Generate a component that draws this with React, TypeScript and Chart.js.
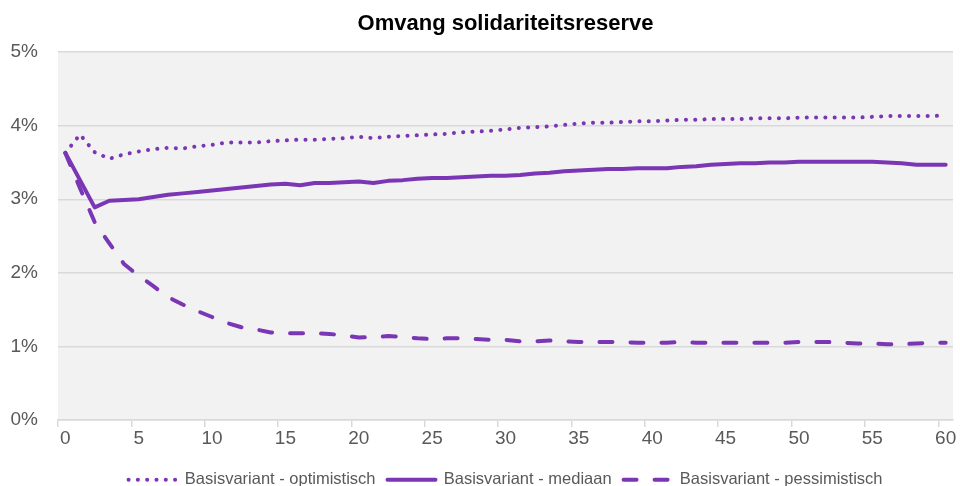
import React, { useEffect, useRef } from 'react';
import { Chart, registerables } from 'chart.js';

Chart.register(...registerables);

const years = [
  0, 1, 2, 3, 4, 5, 6, 7, 8, 9, 10, 11, 12, 13, 14, 15, 16, 17, 18, 19, 20,
  21, 22, 23, 24, 25, 26, 27, 28, 29, 30, 31, 32, 33, 34, 35, 36, 37, 38, 39, 40,
  41, 42, 43, 44, 45, 46, 47, 48, 49, 50, 51, 52, 53, 54, 55, 56, 57, 58, 59, 60,
];

const optimistisch = [
  3.63, 3.88, 3.64, 3.55, 3.61, 3.65, 3.68, 3.70, 3.69, 3.72, 3.74,
  3.77, 3.77, 3.77, 3.79, 3.80, 3.81, 3.81, 3.82, 3.83, 3.85,
  3.83, 3.85, 3.86, 3.87, 3.88, 3.89, 3.91, 3.92, 3.93, 3.95,
  3.97, 3.98, 3.99, 4.01, 4.03, 4.04, 4.04, 4.05, 4.06, 4.06,
  4.07, 4.08, 4.08, 4.09, 4.09, 4.09, 4.10, 4.10, 4.10, 4.11,
  4.11, 4.11, 4.11, 4.11, 4.12, 4.13, 4.13, 4.13, 4.13, 4.14,
];

const mediaan = [
  3.63, 3.26, 2.89, 2.98, 2.99, 3.00, 3.03, 3.06, 3.08, 3.10, 3.12,
  3.14, 3.16, 3.18, 3.20, 3.21, 3.19, 3.22, 3.22, 3.23, 3.24,
  3.22, 3.25, 3.26, 3.28, 3.29, 3.29, 3.30, 3.31, 3.32, 3.32,
  3.33, 3.35, 3.36, 3.38, 3.39, 3.40, 3.41, 3.41, 3.42, 3.42,
  3.42, 3.44, 3.45, 3.47, 3.48, 3.49, 3.49, 3.50, 3.50, 3.51,
  3.51, 3.51, 3.51, 3.51, 3.51, 3.50, 3.49, 3.47, 3.47, 3.47,
];

const pessimistisch = [
  3.63, 3.15, 2.69, 2.40, 2.12, 1.96, 1.82, 1.67, 1.57, 1.48, 1.40,
  1.32, 1.26, 1.23, 1.19, 1.18, 1.18, 1.18, 1.17, 1.15, 1.12,
  1.13, 1.14, 1.13, 1.11, 1.10, 1.11, 1.11, 1.10, 1.09, 1.09,
  1.07, 1.07, 1.08, 1.07, 1.06, 1.06, 1.06, 1.06, 1.05, 1.05,
  1.05, 1.06, 1.05, 1.05, 1.05, 1.05, 1.05, 1.05, 1.05, 1.06,
  1.06, 1.06, 1.05, 1.04, 1.04, 1.03, 1.03, 1.04, 1.05, 1.05,
];

const seriesNames = [
  'Basisvariant - optimistisch',
  'Basisvariant - mediaan',
  'Basisvariant - pessimistisch',
];

const titleText = 'Omvang solidariteitsreserve';

const PURPLE = '#7B36B5';
const FONT = "'Liberation Sans', Arial, sans-serif";
const CANVAS_H = 498;

export default function App() {
  const ref = useRef<HTMLCanvasElement | null>(null);

  useEffect(() => {
    if (!ref.current) return;
    const plotBg = {
      id: 'plotBg',
      beforeDraw(chart: any) {
        const { ctx, chartArea: a } = chart;
        ctx.save();
        ctx.fillStyle = '#f2f2f2';
        ctx.fillRect(a.left, a.top, a.right - a.left, a.bottom - a.top);
        ctx.restore();
      },
    };

    const common = {
      borderColor: PURPLE,
      backgroundColor: PURPLE,
      borderWidth: 4,
      pointRadius: 0,
      pointHoverRadius: 0,
      tension: 0,
      fill: false,
      borderCapStyle: 'round' as const,
      borderJoinStyle: 'round' as const,
    };

    const defaultLabels = (Chart as any).defaults.plugins.legend.labels.generateLabels;

    const chart = new Chart(ref.current, {
      type: 'line',
      data: {
        labels: years.map(String),
        datasets: [
          { ...common, label: seriesNames[0], data: optimistisch, borderDash: [0.1, 9.2] },
          { ...common, label: seriesNames[1], data: mediaan },
          { ...common, label: seriesNames[2], data: pessimistisch, borderDash: [13, 18] },
        ],
      },
      options: {
        animation: false,
        responsive: false,
        maintainAspectRatio: false,
        layout: { padding: { left: 0, right: 7, top: 0, bottom: 0 } },
        plugins: {
          title: {
            display: true,
            text: titleText,
            color: '#000000',
            font: { family: FONT, size: 22, weight: 'bold' },
            padding: { top: 10.5, bottom: 15.2 },
            fullSize: false,
          },
          legend: {
            position: 'bottom',
            fullSize: false,
            labels: {
              usePointStyle: true,
              pointStyle: 'line',
              pointStyleWidth: 48,
              color: '#595959',
              font: { family: FONT, size: 16.5 },
              padding: 12,
              generateLabels: (ch: any) =>
                defaultLabels(ch).map((item: any) => {
                  const ds = ch.data.datasets[item.datasetIndex];
                  return {
                    ...item,
                    lineDash: ds.borderDash || [],
                    lineCap: 'round',
                    lineWidth: 4,
                    strokeStyle: PURPLE,
                    fillStyle: PURPLE,
                  };
                }),
            },
          },
          tooltip: { enabled: false },
        },
        scales: {
          x: {
            type: 'category',
            offset: true,
            grid: {
              offset: true,
              drawOnChartArea: false,
              drawTicks: true,
              tickLength: 7,
              lineWidth: 1.5,
              color: (c: any) => (c.index % 5 === 0 ? '#d9d9d9' : 'rgba(0,0,0,0)'),
            },
            border: { display: true, color: '#d9d9d9', width: 1.5 },
            ticks: {
              autoSkip: false,
              maxRotation: 0,
              minRotation: 0,
              padding: 0,
              color: '#595959',
              font: { family: FONT, size: 19 },
              callback: (_v: any, i: number) => (i % 5 === 0 ? String(years[i]) : ''),
            },
            afterFit: (s: any) => {
              s.height = 39.5;
            },
          },
          y: {
            min: 0,
            max: 5,
            grid: { color: '#d9d9d9', lineWidth: 1.5, drawTicks: false },
            border: { display: false },
            ticks: {
              stepSize: 1,
              padding: 20,
              color: '#595959',
              font: { family: FONT, size: 19 },
              callback: (v: any) => `${v}%`,
            },
            afterFit: (s: any) => {
              s.width = 58;
            },
          },
        },
      },
      plugins: [plotBg],
    } as any);

    return () => chart.destroy();
  }, []);

  return (
    <div
      style={{
        position: 'absolute',
        left: 0,
        top: 0,
        width: 960,
        height: 486,
        overflow: 'hidden',
        background: '#ffffff',
      }}
    >
      <canvas
        ref={ref}
        width={960}
        height={CANVAS_H}
        style={{ display: 'block', width: 960, height: CANVAS_H }}
      />
    </div>
  );
}
